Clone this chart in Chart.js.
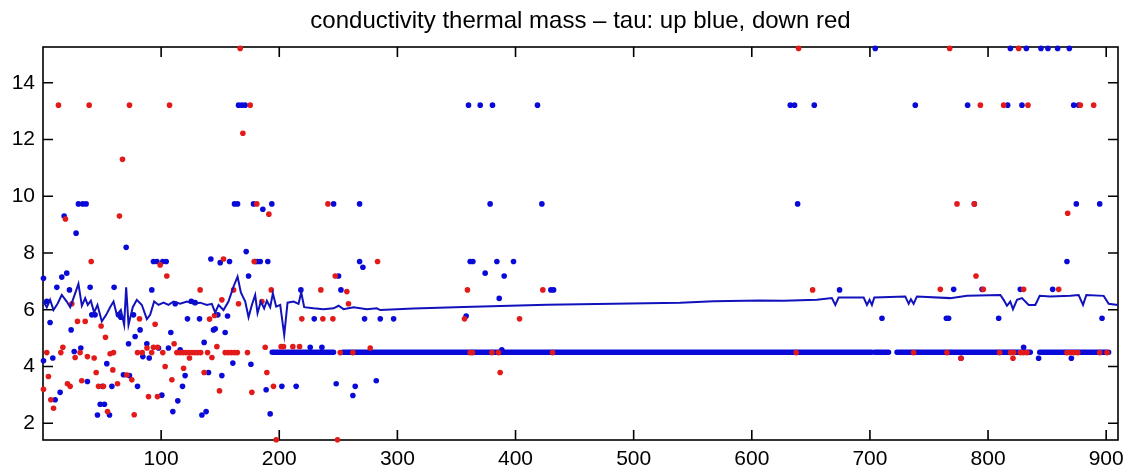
<!DOCTYPE html>
<html>
<head>
<meta charset="utf-8">
<script src="https://cdn.jsdelivr.net/npm/chart.js@4/dist/chart.umd.min.js"></script>
<style>
  html, body { margin: 0; padding: 0; background: #fff; }
  #wrap { width: 1133px; height: 475px; }
</style>
</head>
<body>
<div id="wrap"><canvas id="chart" width="1133" height="475"></canvas></div>
<script>
const titleText = 'conductivity thermal mass \u2013 tau: up blue, down red';

const xTicks = [100, 200, 300, 400, 500, 600, 700, 800, 900];
const yTicks = [2, 4, 6, 8, 10, 12, 14];

// tau of up profiles (blue), [profile, tau]
const upTau = [
  [0.4, 7.11], [3.2, 6.3], [0.4, 4.2], [6, 5.55], [8.3, 4.3], [10.3, 2.83], [11.7, 6.79], [14.5, 3.09],
  [15.9, 7.15], [20.1, 7.29], [22.4, 6.7], [23.8, 5.29], [26.4, 4.53], [32, 4.65], [28, 8.7], [37.6, 3.47],
  [39.9, 6.79], [41.3, 5.82], [44.1, 5.82], [46.1, 2.29], [48.4, 2.67], [50.3, 3.3], [52, 2.67], [54, 4.1],
  [56.3, 2.29], [58.3, 3.3], [60.2, 6.79], [63.9, 5.82], [65.9, 5.74], [68.1, 3.71], [70.4, 8.2], [72.4, 4.8],
  [73.2, 3.68], [76.6, 5.82], [78, 5.06], [80, 3.3], [82.2, 5.29], [84.5, 4.35], [87.9, 4.8], [89.9, 4.3],
  [92.1, 6.7], [93.5, 7.7], [96.4, 7.7], [97.8, 4.65], [100.6, 2.99], [101.4, 7.7], [104.3, 7.7], [106.2, 4.65],
  [108.2, 5.2], [109.9, 2.41], [111.9, 6.21], [114.1, 2.79], [116.1, 4.59], [118.1, 3.3], [120.3, 3.68],
  [122.3, 5.68], [125.5, 6.3], [128.8, 6.25], [132.5, 5.68], [134.5, 2.29], [136.4, 4.85], [138.1, 2.41],
  [140.1, 3.79], [142.1, 7.79], [144.3, 5.29], [145.8, 5.33], [148, 5.82], [150, 7.66], [151.4, 3.68],
  [154.2, 5.2], [156.2, 5.78], [157.9, 7.7], [160.7, 4.12], [172, 8.05], [174, 7.19], [176, 4.08],
  [179.6, 7.7], [181.5, 7.7], [183.9, 7.7], [190.3, 7.7], [188.9, 3.18], [192.3, 2.33], [202.2, 3.3],
  [214.3, 3.3], [218.3, 6.7], [226.2, 4.68], [229.6, 5.68], [236.1, 4.68], [248.2, 3.39], [250.2, 7.19],
  [252.2, 6.7], [262.3, 2.98], [264.3, 3.3], [268, 7.7], [270.8, 7.5], [272.2, 5.68], [282.1, 3.5],
  [285.5, 5.68], [296.8, 5.68],
  [17.9, 9.3], [30, 9.73], [33.7, 9.73], [36.5, 9.73], [162.1, 9.73], [164.7, 9.73], [178.2, 9.73],
  [186.1, 9.54], [193.7, 9.73], [246, 9.73], [268, 9.73], [165.5, 13.21], [168.3, 13.21], [171.1, 13.21],
  [360.2, 13.21], [370.1, 13.21], [380.5, 13.21], [418.6, 13.21], [378.5, 9.73], [422.3, 9.73],
  [361.6, 7.7], [363.9, 7.7], [384.2, 7.7], [398.3, 7.7], [374.3, 7.29], [390.4, 7.19], [429.9, 6.7],
  [432.2, 6.7], [386.2, 6.4], [358.2, 5.78], [388.4, 4.59],
  [632.6, 13.21], [636.2, 13.21], [652.9, 13.21], [738.4, 13.21], [782.7, 13.21], [816.6, 13.21],
  [828.7, 13.21], [872.5, 13.21], [876.7, 13.21], [704.5, 15.21], [818.9, 15.21], [832.4, 15.21],
  [844.8, 15.21], [850.7, 15.21], [858.9, 15.21], [868.8, 15.21], [638.8, 9.73], [788.4, 9.73],
  [874.7, 9.73], [894.5, 9.73], [674.3, 6.7], [770.9, 6.72], [794.9, 6.72], [827.3, 6.72], [854.7, 6.72],
  [866.8, 7.7], [710.2, 5.7], [764.7, 5.7], [766.6, 5.7], [809, 5.7], [896.5, 5.7], [830.1, 4.68],
  [777.1, 4.29], [842.8, 4.29], [870.5, 4.29]
];

// long runs of up profiles sitting on tau = 4.5, [first, last]
const upRunLevel = 4.5;
const upRuns = [[194, 246], [254, 701.5], [704, 715.8], [722.9, 835.8], [843.7, 902.1]];

// tau of down profiles (red)
const downTau = [
  [0.4, 3.2], [4.6, 3.65], [3.2, 4.49], [6.6, 2.83], [8.9, 2.53], [15.1, 4.49], [16.8, 4.68], [20.7, 3.39],
  [23, 3.3], [24.4, 6.21], [27.2, 4.32], [29.2, 5.59], [31.4, 4.49], [32.8, 3.5], [35.7, 5.59], [37.6, 4.35],
  [40.8, 7.7], [43.3, 4.3], [45, 3.79], [47, 3.3], [49.2, 5.43], [51.2, 3.3], [52.9, 5.03], [54.6, 2.41],
  [56.8, 4.45], [59.7, 4.49], [59.1, 3.88], [63.1, 3.39], [71, 3.7], [75.2, 3.53], [77.2, 2.3], [80, 4.49],
  [81.7, 5.68], [84, 4.49], [88, 4.65], [89.3, 2.94], [92, 4.49], [93.5, 4.68], [94.9, 5.49], [96.9, 2.94],
  [97, 4.68], [99.2, 7.58], [101.4, 4.49], [103.4, 4], [104.8, 7.19], [109.1, 3.53], [111, 4.8],
  [113.3, 4.49], [116, 4.49], [118.5, 4.49], [119, 3.94], [121, 4.49], [123.5, 4.49], [124, 4.3],
  [126, 4.49], [128.5, 4.49], [131, 4.49], [133.5, 4.49], [133, 6.7], [136.4, 3.79], [139.3, 4.49],
  [141, 5.67], [143, 4.32], [145.2, 5.8], [147.2, 4.7], [149.4, 3.14], [151.4, 6.35], [152.8, 7.79],
  [154.2, 4.49], [156.8, 4.49], [159.5, 4.49], [162.2, 4.49], [164.5, 4.49], [161.3, 6.7], [165.5, 6.21],
  [173.1, 4.49], [176.8, 3.09], [178.8, 7.7], [185.3, 6.29], [188.1, 4.68], [189.5, 3.79], [193.2, 6.7],
  [195.1, 3.3], [197.4, 1.42], [201.6, 4.7], [203.6, 4.7], [211.5, 4.7], [217.2, 4.7], [219.1, 5.68],
  [235.2, 6.7], [236.9, 5.68], [245.4, 5.68], [247.4, 7.19], [249.3, 1.42], [251.6, 4.49], [257.2, 6.64],
  [258.6, 6.21], [262.3, 4.49], [277, 4.65], [283.2, 7.7],
  [13.1, 13.21], [39.1, 13.21], [73.2, 13.21], [107.1, 13.21], [166.9, 15.21], [175.4, 13.21],
  [169.2, 12.22], [67.3, 11.3], [64.7, 9.3], [19, 9.2], [181, 9.73], [191.2, 9.37], [241.2, 9.73],
  [359.3, 6.7], [423.1, 6.7], [356.8, 5.68], [403.4, 5.68], [387, 3.79], [361.6, 4.49], [363.5, 4.49],
  [380, 4.49], [385.6, 4.49], [431.3, 4.49],
  [639.6, 15.21], [767.5, 15.21], [825.9, 15.21], [793.5, 13.21], [813.2, 13.21], [833.8, 13.21],
  [878.1, 13.21], [889.4, 13.21], [773.7, 9.73], [788.4, 9.73], [867.4, 9.4], [651.5, 6.7], [759.6, 6.72],
  [796, 6.72], [830.1, 6.72], [859.8, 6.72], [789.8, 7.19], [821.1, 4.29], [777.1, 4.29], [637.6, 4.49],
  [737, 4.49], [765.2, 4.49], [809.8, 4.49], [819, 4.49], [821.6, 4.49], [827.3, 4.49], [830, 4.49],
  [833, 4.49], [866.8, 4.49], [869.5, 4.49], [872.5, 4.49], [875.9, 4.49], [894.5, 4.49], [900.7, 4.49]
];

// running mean of tau
const meanTau = [
  [0.4, 6.29], [3.2, 6.09], [6, 6.35], [8.9, 5.99], [12.3, 6.21], [15.9, 6.52], [20.1, 6.29], [23, 6.09],
  [25.8, 6.41], [30, 6.91], [32.9, 6.14], [35.7, 6.41], [37.9, 6.17], [40.5, 6.32], [43.3, 5.9], [46.1, 6.17],
  [49.8, 5.59], [53.5, 5.82], [56.8, 6.09], [59.7, 6.29], [62.5, 5.82], [65.9, 5.99], [68.7, 5.47],
  [70.4, 6.79], [72.4, 5.47], [76, 6.09], [79.4, 6.35], [83.7, 6.17], [87.9, 5.67], [90.7, 5.82],
  [94.1, 6.29], [97.8, 6.17], [102, 6.25], [106.2, 6.17], [110.5, 6.29], [116.1, 6.21], [121.8, 6.29],
  [127.4, 6.21], [133, 6.25], [138.7, 6.17], [142.9, 6.21], [145.8, 5.9], [148.6, 6.17], [152.8, 5.99],
  [157, 6.29], [161.3, 6.82], [164.7, 7.17], [167.5, 6.61], [171.2, 6.29], [174, 5.74], [176.8, 6.17],
  [179.6, 6.52], [181.6, 5.88], [184.4, 6.29], [187.2, 6.05], [189.5, 6.32], [192.3, 6.09], [194.6, 6.58],
  [197.4, 6.11], [200.8, 6.17], [204.2, 5.11], [207, 6.25], [212.1, 6.29], [216.3, 6.21], [218.6, 6.61],
  [221.1, 6.09], [229, 6.05], [237.5, 6.02], [246, 6.05], [250.2, 6.14], [254.4, 6.02], [262.9, 6.09],
  [274.2, 6.02], [282.6, 6.05], [285.5, 5.99], [313.6, 6.04], [356, 6.1], [426.5, 6.18], [483, 6.21],
  [539.4, 6.25], [567.6, 6.3], [607.2, 6.33], [626.9, 6.32], [655.1, 6.35], [667.8, 6.41], [670.7, 6.17],
  [673.5, 6.43], [694.7, 6.43], [697.5, 6.17], [699.7, 6.35], [701.7, 6.17], [703.7, 6.43], [729.9, 6.47],
  [732.8, 6.21], [734.7, 6.37], [737, 6.21], [739.8, 6.47], [768, 6.41], [782.2, 6.49], [810.4, 6.52],
  [813.2, 6.35], [816, 6.14], [818.8, 6.29], [821.1, 6.02], [824.5, 6.35], [828.7, 6.41], [834.4, 6.17],
  [840, 6.17], [843.7, 6.49], [852.7, 6.47], [869.7, 6.49], [876.7, 6.52], [880.4, 6.17], [883.2, 6.52],
  [897.9, 6.49], [902.1, 6.21], [910, 6.17]
];

const blue = '#0a0ad8';
const red = '#e31a1a';
const font = "'Liberation Sans', Arial, Helvetica, sans-serif";

const toPts = arr => arr.map(([x, y]) => ({ x, y }));
const runPts = upRuns.flatMap(([a, b]) => [
  { x: a, y: upRunLevel }, { x: b, y: upRunLevel }, { x: b, y: null }
]);

// matlab style box with inward ticks on all four sides
const boxTicks = {
  id: 'boxTicks',
  beforeDatasetsDraw(chart) {
    const { ctx, chartArea: a, scales: { x, y } } = chart;
    ctx.save();
    ctx.strokeStyle = '#000';
    ctx.lineWidth = 1.6;
    ctx.strokeRect(a.left, a.top, a.right - a.left, a.bottom - a.top);
    ctx.beginPath();
    x.ticks.forEach(t => {
      const px = x.getPixelForValue(t.value);
      ctx.moveTo(px, a.bottom); ctx.lineTo(px, a.bottom - 10);
      ctx.moveTo(px, a.top); ctx.lineTo(px, a.top + 10);
    });
    y.ticks.forEach(t => {
      const py = y.getPixelForValue(t.value);
      ctx.moveTo(a.left, py); ctx.lineTo(a.left + 10, py);
      ctx.moveTo(a.right, py); ctx.lineTo(a.right - 10, py);
    });
    ctx.stroke();
    ctx.restore();
  }
};

new Chart(document.getElementById('chart'), {
  type: 'scatter',
  data: {
    datasets: [
      {
        type: 'line',
        label: 'mean',
        data: toPts(meanTau),
        borderColor: '#1212bc',
        borderWidth: 2,
        pointRadius: 0,
        tension: 0,
        order: 0
      },
      {
        label: 'down',
        data: toPts(downTau),
        backgroundColor: red,
        borderWidth: 0,
        pointRadius: 2.8,
        clip: false,
        order: 1
      },
      {
        type: 'line',
        label: 'up run',
        data: runPts,
        borderColor: blue,
        borderWidth: 5.4,
        borderCapStyle: 'round',
        pointRadius: 0,
        spanGaps: false,
        order: 2
      },
      {
        label: 'up',
        data: toPts(upTau),
        backgroundColor: blue,
        borderWidth: 0,
        pointRadius: 2.8,
        clip: false,
        order: 3
      }
    ]
  },
  options: {
    responsive: false,
    animation: false,
    devicePixelRatio: 1,
    layout: { padding: { left: 0, right: 15, top: 0, bottom: 0 } },
    plugins: {
      legend: { display: false },
      tooltip: { enabled: false },
      title: {
        display: true,
        fullSize: false, // centre over the plot area, not the canvas
        text: titleText,
        color: '#000',
        font: { family: font, size: 24, weight: 'normal' },
        padding: { top: 7, bottom: 11.2 }
      }
    },
    scales: {
      x: {
        type: 'linear',
        min: 0,
        max: 910,
        afterBuildTicks: s => { s.ticks = xTicks.map(v => ({ value: v })); },
        afterFit: s => { s.height = 35; },
        grid: { display: false, drawTicks: false },
        border: { display: false },
        ticks: {
          color: '#000',
          font: { family: font, size: 21 },
          padding: 7,
          maxRotation: 0,
          autoSkip: false
        }
      },
      y: {
        type: 'linear',
        min: 1.41,
        max: 15.26,
        afterBuildTicks: s => { s.ticks = yTicks.map(v => ({ value: v })); },
        afterFit: s => { s.width = 43; },
        grid: { display: false, drawTicks: false },
        border: { display: false },
        ticks: {
          color: '#000',
          font: { family: font, size: 21 },
          padding: 8
        }
      }
    }
  },
  plugins: [boxTicks]
});
</script>
</body>
</html>
